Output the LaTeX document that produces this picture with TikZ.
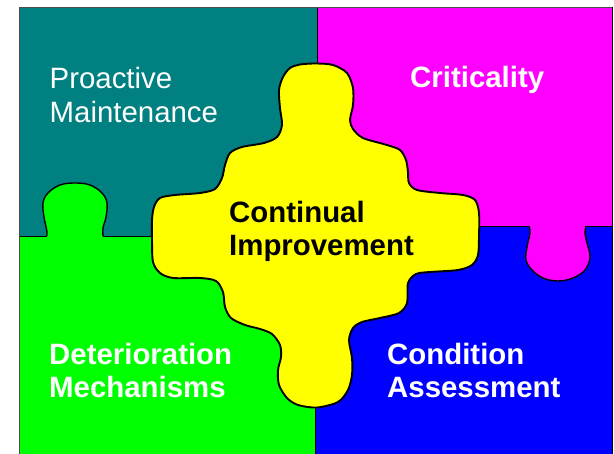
\documentclass[tikz,border=0pt]{standalone}
\usepackage{fontspec}
\setmainfont{Liberation Sans}
\definecolor{pmteal}{RGB}{0,128,128}
\definecolor{pmmagenta}{RGB}{255,0,255}
\definecolor{pmgreen}{RGB}{0,255,0}
\definecolor{pmblue}{RGB}{0,0,255}
\definecolor{pmyellow}{RGB}{255,255,0}
\begin{document}
\begin{tikzpicture}[x=1pt,y=-1pt,
  seam/.style={draw=black,line width=0.9pt},
  tabline/.style={draw=black,line width=1.4pt},
  frameline/.style={draw=black!70,line width=0.9pt},
  hubline/.style={draw=black,line width=1.9pt,fill=pmyellow},
  lbl/.style={anchor=base west,inner sep=0pt,text=white,font=\fontsize{29.4}{33}\selectfont},
  lblbold/.style={lbl,font=\fontsize{29.4}{33}\selectfont\bfseries},
  hubtext/.style={lblbold,text=black}]
\useasboundingbox (0,0) rectangle (614,454);
\clip (0,0) rectangle (614,454);

% four quadrant pieces
\fill[pmteal]    (19,7)    rectangle (317,236);
\fill[pmmagenta] (317,7)   rectangle (612,226);
\fill[pmgreen]   (19,236)  rectangle (315,460);
\fill[pmblue]    (315,226) rectangle (612,460);

% green knob reaching up into the teal piece
\fill[pmgreen] plot[smooth,tension=0.6] coordinates {(47,237) (46.7,230) (44,217) (43,203) (48,193) (60,185) (75,183) (90,185) (102,193) (107,203) (106,217) (103,228) (103,237)} -- cycle;
\draw[tabline] plot[smooth,tension=0.6] coordinates {(47,236) (46.7,230) (44,217) (43,203) (48,193) (60,185) (75,183) (90,185) (102,193) (107,203) (106,217) (103,228) (103,236)};

% magenta knob reaching down into the blue piece
\fill[pmmagenta] plot[smooth,tension=0.6] coordinates {(529,225) (530,233) (527,247) (526,260) (532,270) (543,278) (558,281) (573,278) (585,270) (590,257) (587,243) (585,233) (586,225)} -- cycle;
\draw[tabline] plot[smooth,tension=0.6] coordinates {(529,226) (530,233) (527,247) (526,260) (532,270) (543,278) (558,281) (573,278) (585,270) (590,257) (587,243) (585,233) (586,226)};

% seams between the pieces
\draw[seam] (19,236) -- (47,236);
\draw[seam] (103,236) -- (315,236);
\draw[seam] (317,7) -- (317,236);
\draw[seam] (315,226) -- (315,460);
\draw[seam] (315,226) -- (529,226);
\draw[seam] (586,226) -- (612,226);

% outer frame
\draw[frameline] (19,460) -- (19,7) -- (612,7);
\draw[seam] (612,7) -- (612,460);

% central piece
\path[hubline] plot[smooth cycle,tension=0.5] coordinates {
 (300,64.5) (316,63.5) (333,65) (347,73) (353,88) (353,105) (350,120) (353,129)
 (363,138) (387,145) (400,150) (406,160) (408,172) (409,183) (417,190) (440,193)
 (463,195) (475,200) (479,213) (479,237) (478,255) (472,265) (458,270) (430,272)
 (416,274) (408,283) (407,303) (399,313) (380,318) (362,322) (353,328) (349,340)
 (352,358) (352,375) (348,390) (338,402) (317,407.5) (298,405) (287,398) (279,385)
 (278,370) (281,357) (280,345) (272,334) (260,329) (245,325) (231,318) (225,307)
 (223,292) (216,281) (200,278) (173,278) (160,273) (153,262) (152,240) (152,220)
 (154,207) (160,198) (175,195) (200,193) (215,189) (222,178) (225,165) (230,153)
 (242,147) (264,143) (277,137) (282,125) (280,108) (279,90) (283,77) (290,68)};

% labels
\node[lbl] (pm1) at (49.5,89) {Proactive};
\node[lbl] (pm2) at (49.5,123) {Maintenance};
\node[lblbold] (cr) at (410,88) {Criticality};
\node[hubtext] (ci1) at (229,223) {Continual};
\node[hubtext] (ci2) at (229,256) {Improvement};
\node[lblbold] (dm1) at (49,365) {Deterioration};
\node[lblbold] (dm2) at (49,398) {Mechanisms};
\node[lblbold] (ca1) at (387,365) {Condition};
\node[lblbold] (ca2) at (387,398) {Assessment};
\end{tikzpicture}
\end{document}
